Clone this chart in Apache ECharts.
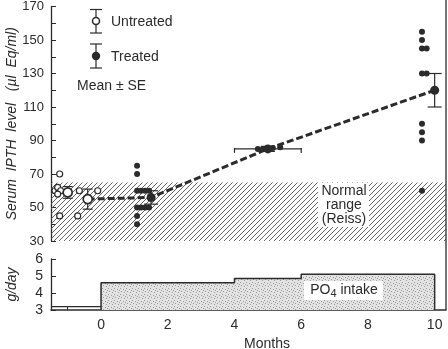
<!DOCTYPE html>
<html>
<head>
<meta charset="utf-8">
<script src="https://cdn.jsdelivr.net/npm/echarts@6/dist/echarts.min.js"></script>
<style>
  html, body { margin: 0; padding: 0; background: #fff; }
  #chart { width: 448px; height: 349px; }
</style>
</head>
<body>
<div id="chart"></div>
<script>
// individual measurements
var untreatedX = [-1.24, -1.38, -1.3, -1.21, -1.3, -0.65, -0.1, -1.24, -0.7];
var untreatedY = [70, 60, 62, 60, 58, 60, 60, 45, 45];
var treatedX = [1.08, 1.08, 1.08, 1.2, 1.32, 1.44, 1.08, 1.2, 1.32, 1.44, 1.08, 1.08,
                4.7, 4.85, 5.0, 5.15, 5.37,
                9.62, 9.62, 9.62, 9.76, 9.62, 9.76, 9.62, 9.62, 9.62, 9.62];
var treatedY = [75, 70, 60, 60, 60, 60, 50, 50, 50, 50, 45, 40,
                85, 85, 85, 85.5, 86,
                155, 150, 145, 145, 130, 130, 100, 95, 90, 60];

// means +- SE
var untreatedMeanX = [-1.0, -0.4];
var untreatedMeanY = [59, 55];
var untreatedSE = [3.5, 6];
var treatedMeanX = [1.5, 5, 10];
var treatedMeanY = [56, 85, 120];
var treatedSE = [4, 1.5, 10];
var treatedXSE = [0, 1, 0];

// normal range (Reiss)
var normalLow = 30, normalHigh = 65;

// PO4 intake, g/day
var intakeMonths = [-1.5, 0, 4, 6, 10];
var intakeLevels = [3.2, 4.6, 4.85, 5.1];

// axes
var monthLabels = [0, 2, 4, 6, 8, 10];
var monthTicks = [-1, 0, 1, 2, 3, 4, 5, 6, 7, 8, 9, 10];
var pthLabels = [30, 50, 70, 90, 110, 130, 150, 170];
var pthMinor = [40, 60, 80, 100, 120, 140, 160];
var intakeLabels = [3, 4, 5, 6];

var xMin = -1.5, xMax = 10.34;
var ink = '#2b2b2b';
var txt = "'Liberation Sans', Arial, sans-serif";
var num = "'Liberation Sans Narrow', 'Liberation Sans', sans-serif";

function pairs(xs, ys) {
  return xs.map(function (x, i) { return [x, ys[i]]; });
}

function hatch() {
  var c = document.createElement('canvas');
  c.width = 5; c.height = 5;
  var g = c.getContext('2d');
  g.strokeStyle = '#555';
  g.lineWidth = 0.9;
  g.beginPath();
  g.moveTo(0, 5); g.lineTo(5, 0);
  g.moveTo(-1, 1); g.lineTo(1, -1);
  g.moveTo(4, 6); g.lineTo(6, 4);
  g.stroke();
  return c;
}

function stipple() {
  var c = document.createElement('canvas');
  c.width = 6; c.height = 6;
  var g = c.getContext('2d');
  g.fillStyle = '#e2e2e2';
  g.fillRect(0, 0, 6, 6);
  g.fillStyle = '#9c9c9c';
  [[0, 0], [3, 1], [1, 3], [4, 4], [5, 2]].forEach(function (p) { g.fillRect(p[0], p[1], 1, 1); });
  return c;
}

function errorBars(meansX, meansY, se, xse, capW) {
  return {
    type: 'custom',
    xAxisIndex: 0, yAxisIndex: 0,
    z: 3,
    data: meansX.map(function (x, i) { return [x, meansY[i], se[i], xse ? xse[i] : 0]; }),
    renderItem: function (params, api) {
      var x = api.value(0), y = api.value(1), s = api.value(2), sx = api.value(3);
      var top = api.coord([x, y + s]), bot = api.coord([x, y - s]);
      var st = { stroke: ink, lineWidth: 1.2 };
      var kids = [
        { type: 'line', shape: { x1: top[0], y1: top[1], x2: bot[0], y2: bot[1] }, style: st },
        { type: 'line', shape: { x1: top[0] - capW / 2, y1: top[1], x2: top[0] + capW / 2, y2: top[1] }, style: st },
        { type: 'line', shape: { x1: bot[0] - capW / 2, y1: bot[1], x2: bot[0] + capW / 2, y2: bot[1] }, style: st }
      ];
      if (sx > 0) {
        var l = api.coord([x - sx, y]), r = api.coord([x + sx, y]);
        kids.push({ type: 'line', shape: { x1: l[0], y1: l[1], x2: r[0], y2: r[1] }, style: st });
        kids.push({ type: 'line', shape: { x1: l[0], y1: l[1] - 1, x2: l[0], y2: l[1] + 4 }, style: st });
        kids.push({ type: 'line', shape: { x1: r[0], y1: r[1] - 1, x2: r[0], y2: r[1] + 4 }, style: st });
      }
      return { type: 'group', children: kids };
    }
  };
}

var trend = [[untreatedMeanX[1], untreatedMeanY[1]]].concat(pairs(treatedMeanX, treatedMeanY));

var preIntake = [[intakeMonths[0], intakeLevels[0]], [intakeMonths[1], intakeLevels[0]]];
var postIntake = [[intakeMonths[1], intakeLabels[0]]];
for (var i = 1; i < intakeLevels.length; i++) postIntake.push([intakeMonths[i], intakeLevels[i]]);
postIntake.push([intakeMonths[intakeMonths.length - 1], intakeLevels[intakeLevels.length - 1]]);
postIntake.push([intakeMonths[intakeMonths.length - 1], intakeLabels[0]]);

var myChart = echarts.init(document.getElementById('chart'));

var option = {
  animation: false,
  backgroundColor: '#fff',
  grid: [
    { left: 51, right: 2, top: 6.5, bottom: 108, containLabel: false, outerBoundsMode: 'none' },
    { left: 51, right: 2, top: 259, bottom: 39, containLabel: false, outerBoundsMode: 'none' }
  ],
  xAxis: [
    { gridIndex: 0, type: 'value', min: xMin, max: xMax, show: false },
    {
      gridIndex: 1, type: 'value', min: xMin, max: xMax,
      axisLine: { onZero: false, lineStyle: { color: ink, width: 1.5 } },
      axisTick: { inside: true, length: 3, customValues: monthTicks, lineStyle: { color: ink } },
      axisLabel: { customValues: monthLabels, margin: 8, fontSize: 14, fontFamily: num, color: ink },
      splitLine: { show: false },
      name: 'Months', nameLocation: 'middle', nameGap: 27, nameMoveOverlap: false,
      nameTextStyle: { fontSize: 14, fontFamily: txt, color: ink, padding: [0, 0, 0, 37] }
    }
  ],
  yAxis: [
    {
      gridIndex: 0, type: 'value', min: 30, max: 170,
      axisLine: { show: true, onZero: false, lineStyle: { color: ink, width: 1.3 } },
      axisTick: { show: true, inside: true, length: 5, customValues: pthLabels.concat(pthMinor), lineStyle: { color: ink } },
      axisLabel: { customValues: pthLabels, margin: 7, fontSize: 13, fontFamily: num, color: ink },
      splitLine: { show: false },
      name: 'Serum  IPTH  level   (\u00b5l  Eq/ml)', nameLocation: 'middle', nameGap: 32, nameRotate: 90,
      nameMoveOverlap: false,
      nameTextStyle: { fontSize: 14, fontFamily: txt, fontStyle: 'italic', color: ink }
    },
    {
      gridIndex: 1, type: 'value', min: 3, max: 6, interval: 1,
      axisLine: { show: true, onZero: false, lineStyle: { color: ink, width: 1.3 } },
      axisTick: { show: true, inside: true, length: 5, lineStyle: { color: ink } },
      axisLabel: { margin: 8, fontSize: 14, fontFamily: num, color: ink },
      splitLine: { show: false },
      name: 'g/day', nameLocation: 'middle', nameGap: 32, nameRotate: 90,
      nameMoveOverlap: false,
      nameTextStyle: { fontSize: 14, fontFamily: txt, fontStyle: 'italic', color: ink }
    }
  ],
  series: [
    {
      name: 'normal', type: 'line', xAxisIndex: 0, yAxisIndex: 0, data: [], z: 0,
      markArea: {
        silent: true,
        itemStyle: { color: { image: hatch(), repeat: 'repeat' } },
        data: [[{ yAxis: normalLow }, { yAxis: normalHigh }]]
      }
    },
    {
      name: 'trend', type: 'line', xAxisIndex: 0, yAxisIndex: 0, z: 2,
      data: trend, showSymbol: false, symbol: 'none',
      lineStyle: { color: ink, width: 3, type: [7, 3] }
    },
    errorBars(untreatedMeanX, untreatedMeanY, untreatedSE, null, 10),
    errorBars(treatedMeanX, treatedMeanY, treatedSE, treatedXSE, 14),
    {
      name: 'Untreated', type: 'scatter', xAxisIndex: 0, yAxisIndex: 0, z: 4,
      data: pairs(untreatedX, untreatedY), symbolSize: 6,
      itemStyle: { color: '#fff', borderColor: ink, borderWidth: 1.2, opacity: 1 }
    },
    {
      name: 'Treated', type: 'scatter', xAxisIndex: 0, yAxisIndex: 0, z: 4,
      data: pairs(treatedX, treatedY), symbolSize: 6,
      itemStyle: { color: ink, opacity: 1 }
    },
    {
      name: 'Untreated mean', type: 'scatter', xAxisIndex: 0, yAxisIndex: 0, z: 5,
      data: pairs(untreatedMeanX, untreatedMeanY), symbolSize: 9,
      itemStyle: { color: '#fff', borderColor: ink, borderWidth: 1.7, opacity: 1 }
    },
    {
      name: 'Treated mean', type: 'scatter', xAxisIndex: 0, yAxisIndex: 0, z: 5,
      data: pairs(treatedMeanX, treatedMeanY), symbolSize: 9,
      itemStyle: { color: ink, opacity: 1 }
    },
    {
      name: 'pre intake', type: 'line', xAxisIndex: 1, yAxisIndex: 1,
      data: preIntake, symbol: 'none', lineStyle: { color: ink, width: 1.3 }
    },
    {
      name: 'PO4 intake', type: 'line', xAxisIndex: 1, yAxisIndex: 1, step: 'end',
      data: postIntake, symbol: 'none', lineStyle: { color: ink, width: 1.5 },
      areaStyle: { color: { image: stipple(), repeat: 'repeat' }, opacity: 1 }
    }
  ],
  graphic: [
    // right frame
    { type: 'line', z: 10, shape: { x1: 446, y1: 0, x2: 446, y2: 310 }, style: { stroke: ink, lineWidth: 1.3 } },
    // legend: untreated
    { type: 'line', shape: { x1: 96, y1: 9.5, x2: 96, y2: 33 }, style: { stroke: ink, lineWidth: 1.2 } },
    { type: 'line', shape: { x1: 90, y1: 9.5, x2: 102, y2: 9.5 }, style: { stroke: ink, lineWidth: 1.2 } },
    { type: 'line', shape: { x1: 90, y1: 33, x2: 102, y2: 33 }, style: { stroke: ink, lineWidth: 1.2 } },
    { type: 'circle', shape: { cx: 96, cy: 21, r: 3.5 }, style: { fill: '#fff', stroke: ink, lineWidth: 1.5 } },
    { type: 'text', x: 111, y: 22, style: { text: 'Untreated', font: '14px ' + txt, fill: ink, verticalAlign: 'middle' } },
    // legend: treated
    { type: 'line', shape: { x1: 96, y1: 44, x2: 96, y2: 68 }, style: { stroke: ink, lineWidth: 1.2 } },
    { type: 'line', shape: { x1: 90, y1: 44, x2: 102, y2: 44 }, style: { stroke: ink, lineWidth: 1.2 } },
    { type: 'line', shape: { x1: 90, y1: 68, x2: 102, y2: 68 }, style: { stroke: ink, lineWidth: 1.2 } },
    { type: 'circle', shape: { cx: 96, cy: 56, r: 4.2 }, style: { fill: ink } },
    { type: 'text', x: 111, y: 57, style: { text: 'Treated', font: '14px ' + txt, fill: ink, verticalAlign: 'middle' } },
    { type: 'text', x: 77, y: 86, style: { text: 'Mean \u00b1 SE', font: '14px ' + txt, fill: ink, verticalAlign: 'middle' } },
    // normal range label
    { type: 'rect', z: 6, shape: { x: 318, y: 183, width: 51, height: 44 }, style: { fill: '#fff' } },
    { type: 'text', z: 7, x: 344, y: 205, style: { text: 'Normal\nrange\n(Reiss)', font: '14px ' + txt, lineHeight: 14, fill: ink, align: 'center', verticalAlign: 'middle' } },
    // PO4 label
    { type: 'rect', z: 6, shape: { x: 304, y: 281, width: 79, height: 19 }, style: { fill: '#fff' } },
    {
      type: 'text', z: 7, x: 344, y: 290,
      style: {
        text: '{a|PO}{s|4}{a| intake}', align: 'center', verticalAlign: 'middle', fill: ink,
        rich: {
          a: { fontSize: 14, fontFamily: txt, fill: ink },
          s: { fontSize: 11, fontFamily: txt, fill: ink, padding: [7, 0, 0, 0] }
        }
      }
    }
  ]
};

myChart.setOption(option);
</script>
</body>
</html>
